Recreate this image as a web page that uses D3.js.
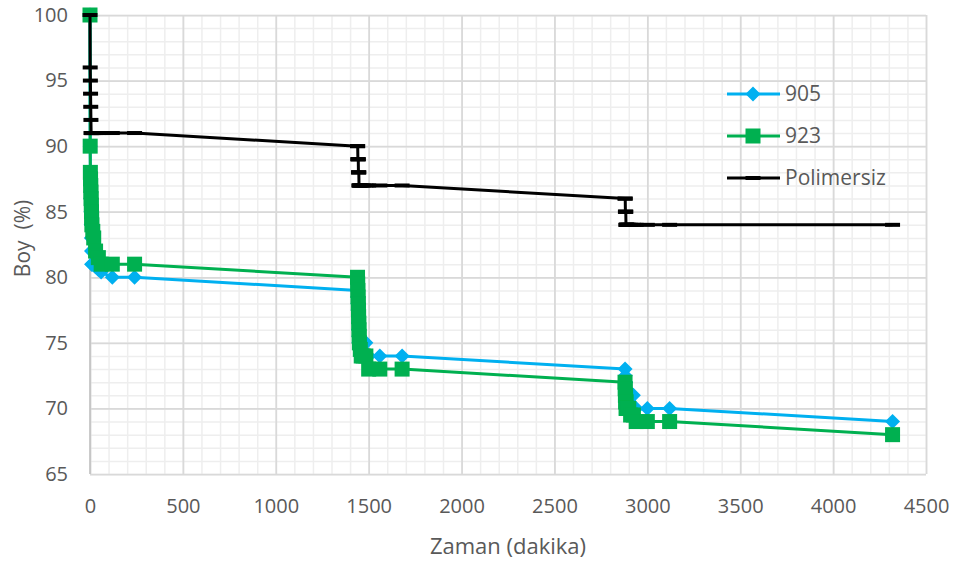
<!DOCTYPE html>
<html>
<head>
<meta charset="utf-8">
<script src="https://cdn.jsdelivr.net/npm/d3@7"></script>
<style>
  body { margin: 0; background: #fff; }
  text { font-family: "Open Sans", sans-serif; }
</style>
</head>
<body>
<div id="chart"></div>
<script>
// zaman noktalari (dakika)
var dakika = [
  0, 1, 2, 3, 4, 5, 6, 7, 8, 9, 10, 15, 20, 30, 45, 60, 120, 240,
  1440, 1441, 1442, 1443, 1444, 1445, 1446, 1447, 1448, 1449, 1450, 1455, 1460, 1470, 1485, 1500, 1560, 1680,
  2880, 2881, 2882, 2883, 2884, 2885, 2886, 2887, 2888, 2889, 2890, 2895, 2900, 2910, 2925, 2940, 3000, 3120,
  4320
];

// boy (%) degerleri
var boy905 = [
  100, 90, 88, 87, 86, 85, 84, 83, 82, 81, 81, 81, 81, 80.8, 80.6, 80.4, 80, 80,
  79, 78.5, 78, 77.5, 77, 76.5, 76, 75.5, 75, 75, 75, 75, 75, 75, 75, 74, 74, 74,
  73, 72.5, 72, 72, 71.5, 71.5, 71, 71, 71, 71, 71, 71, 71, 71, 71, 70, 70, 70,
  69
];
var boy923 = [
  100, 90, 88, 87.5, 87, 86.5, 86, 85.5, 85, 84.5, 84, 83.5, 83, 82, 81.5, 81, 81, 81,
  80, 79.5, 79, 78.5, 78, 77.5, 77, 76.5, 76, 75.5, 75, 74.5, 74, 74, 74, 73, 73, 73,
  72, 71.5, 71, 71, 70.5, 70.5, 70, 70, 70, 70, 70, 70, 70, 69.5, 69.5, 69, 69, 69,
  68
];
var boyPolimersiz = [
  100, 96, 95, 94, 93, 92, 91, 91, 91, 91, 91, 91, 91, 91, 91, 91, 91, 91,
  90, 90, 89, 89, 89, 88, 88, 88, 87, 87, 87, 87, 87, 87, 87, 87, 87, 87,
  86, 86, 85, 85, 85, 84, 84, 84, 84, 84, 84, 84, 84, 84, 84, 84, 84, 84,
  84
];

var seriesNames = ["905", "923", "Polimersiz"];
var xTicks = [0, 500, 1000, 1500, 2000, 2500, 3000, 3500, 4000, 4500];
var yTicks = [65, 70, 75, 80, 85, 90, 95, 100];

var width = 954;
var height = 563;
var plotLeft = 90, plotRight = 926, plotTop = 15, plotBottom = 474;

var svg = d3.select("#chart")
    .append("svg")
    .attr("width", width)
    .attr("height", height);

var x = d3.scaleLinear().domain([0, 4500]).range([plotLeft, plotRight]);
var y = d3.scaleLinear().domain([65, 100]).range([plotBottom, plotTop]);

// minor gridlines
svg.append("g")
    .attr("transform", "translate(0," + plotBottom + ")")
    .call(d3.axisBottom(x).tickValues(d3.range(0, 4501, 100)).tickSize(-(plotBottom - plotTop)).tickFormat(""))
    .call(function(g) { g.select(".domain").remove(); })
    .selectAll("line").attr("stroke", "#eeeeee").attr("stroke-width", 1.5);
svg.append("g")
    .attr("transform", "translate(" + plotLeft + ",0)")
    .call(d3.axisLeft(y).tickValues(d3.range(65, 100.1, 1)).tickSize(-(plotRight - plotLeft)).tickFormat(""))
    .call(function(g) { g.select(".domain").remove(); })
    .selectAll("line").attr("stroke", "#eeeeee").attr("stroke-width", 1.5);

// major gridlines + labels
var xAxis = svg.append("g")
    .attr("transform", "translate(0," + plotBottom + ")")
    .call(d3.axisBottom(x).tickValues(xTicks).tickSize(-(plotBottom - plotTop)).tickPadding(25).tickFormat(d3.format("d")));
xAxis.select(".domain").remove();
xAxis.selectAll("line").attr("stroke", "#d9d9d9").attr("stroke-width", 1.75);
xAxis.selectAll("text").attr("fill", "#595959").style("font-size", "20px");

var yAxis = svg.append("g")
    .attr("transform", "translate(" + plotLeft + ",0)")
    .call(d3.axisLeft(y).tickValues(yTicks).tickSize(-(plotRight - plotLeft)).tickPadding(22).tickFormat(d3.format("d")));
yAxis.select(".domain").remove();
yAxis.selectAll("line").attr("stroke", "#d9d9d9").attr("stroke-width", 1.75);
yAxis.selectAll("text").attr("fill", "#595959").style("font-size", "20px");

// y axis line
svg.append("line")
    .attr("x1", plotLeft).attr("x2", plotLeft)
    .attr("y1", plotTop).attr("y2", plotBottom)
    .attr("stroke", "#bfbfbf").attr("stroke-width", 1.5);

// axis titles
svg.append("text")
    .attr("x", (plotLeft + plotRight) / 2)
    .attr("y", 554)
    .attr("text-anchor", "middle")
    .attr("fill", "#595959")
    .style("font-size", "22px")
    .text("Zaman (dakika)");

svg.append("text")
    .attr("transform", "translate(30," + ((plotTop + plotBottom) / 2 - 6) + ") rotate(-90)")
    .attr("text-anchor", "middle")
    .attr("fill", "#595959")
    .style("font-size", "21px")
    .style("white-space", "pre")
    .text("Boy  (%)");

var colors = ["#00b0f0", "#00b050", "#000000"];
var values = [boy905, boy923, boyPolimersiz];

var line = d3.line()
    .x(function(d) { return x(d[0]); })
    .y(function(d) { return y(d[1]); });

function drawMarker(g, i, cx, cy) {
    if (i == 0) {
        g.append("path")
            .attr("d", "M" + cx + "," + (cy - 7.5) + "L" + (cx + 7.5) + "," + cy + "L" + cx + "," + (cy + 7.5) + "L" + (cx - 7.5) + "," + cy + "Z")
            .attr("fill", colors[i]);
    } else if (i == 1) {
        g.append("rect")
            .attr("x", cx - 7.5).attr("y", cy - 7.5)
            .attr("width", 15).attr("height", 15)
            .attr("fill", colors[i]);
    } else {
        g.append("rect")
            .attr("x", cx - 7.5).attr("y", cy - 2)
            .attr("width", 15).attr("height", 4)
            .attr("fill", colors[i]);
    }
}

values.forEach(function(vals, i) {
    var data = dakika.map(function(t, k) { return [t, vals[k]]; });
    var g = svg.append("g");
    g.append("path")
        .datum(data)
        .attr("d", line)
        .attr("fill", "none")
        .attr("stroke", colors[i])
        .attr("stroke-width", 3)
        .attr("stroke-linejoin", "round");
    data.forEach(function(d) {
        drawMarker(g, i, x(d[0]), y(d[1]));
    });
});

// legend
var legendY = [94, 136, 178];
seriesNames.forEach(function(name, i) {
    var g = svg.append("g");
    g.append("line")
        .attr("x1", 727).attr("x2", 780)
        .attr("y1", legendY[i]).attr("y2", legendY[i])
        .attr("stroke", colors[i]).attr("stroke-width", 3);
    drawMarker(g, i, 753, legendY[i]);
    g.append("text")
        .attr("x", 785)
        .attr("y", legendY[i])
        .attr("dy", "0.35em")
        .attr("fill", "#595959")
        .style("font-size", "21px")
        .text(name);
});
</script>
</body>
</html>
